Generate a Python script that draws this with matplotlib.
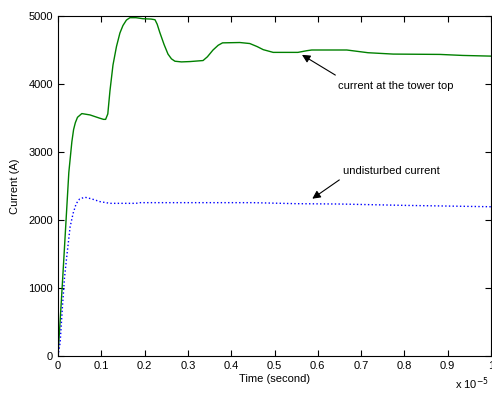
import matplotlib
matplotlib.use('Agg')
import matplotlib.pyplot as plt

# time in units of 1e-5 s, current in A
t_top = [0, 0.01, 0.02, 0.025, 0.032, 0.036, 0.04, 0.045, 0.055, 0.074, 0.095, 0.105, 0.11,
         0.115, 0.12, 0.127, 0.135, 0.143, 0.15, 0.158, 0.166, 0.18, 0.196, 0.215, 0.224,
         0.229, 0.235, 0.245, 0.254, 0.262, 0.27, 0.285, 0.305, 0.335, 0.345, 0.358, 0.37,
         0.38, 0.42, 0.443, 0.46, 0.474, 0.497, 0.554, 0.575, 0.586, 0.667, 0.716, 0.774,
         0.882, 0.935, 1.0]
i_top = [0, 1050, 2150, 2700, 3150, 3330, 3430, 3510, 3565, 3545, 3500, 3480, 3480,
         3560, 3900, 4280, 4550, 4750, 4860, 4940, 4975, 4975, 4960, 4955, 4945,
         4880, 4760, 4580, 4440, 4370, 4335, 4325, 4330, 4345, 4400, 4500, 4570,
         4605, 4610, 4595, 4550, 4505, 4465, 4465, 4490, 4500, 4500, 4460, 4440,
         4435, 4420, 4410]

t_und = [0, 0.005, 0.01, 0.015, 0.02, 0.028, 0.035, 0.042, 0.05, 0.062, 0.078, 0.097, 0.12,
         0.18, 0.19, 0.45, 0.55, 0.65, 0.8, 0.9, 1.0]
i_und = [0, 200, 700, 1150, 1450, 1900, 2100, 2240, 2310, 2335, 2310, 2270, 2245,
         2245, 2255, 2255, 2240, 2235, 2215, 2205, 2195]

xticks = [0, 0.1, 0.2, 0.3, 0.4, 0.5, 0.6, 0.7, 0.8, 0.9, 1]
xticklabels = ['0', '0.1', '0.2', '0.3', '0.4', '0.5', '0.6', '0.7', '0.8', '0.9', '1']
yticks = [0, 1000, 2000, 3000, 4000, 5000]

plt.rcParams['font.family'] = ['Liberation Sans', 'DejaVu Sans']
plt.rcParams['font.size'] = 8

fig = plt.figure(figsize=(4.92, 3.97), dpi=100)
ax = fig.add_axes([58 / 492, 41 / 397, 433 / 492, 340 / 397])

ax.plot(t_top, i_top, color='#008000', lw=1)
ax.plot(t_und, i_und, color='blue', lw=1, linestyle=':')

ax.set_xlim(0, 1)
ax.set_ylim(0, 5000)
ax.set_xticks(xticks)
ax.set_xticklabels(xticklabels)
ax.set_yticks(yticks)
ax.tick_params(direction='in', top=True, right=True, length=4, width=0.8, labelsize=8)
for s in ax.spines.values():
    s.set_linewidth(0.8)

ax.set_xlabel('Time (second)', fontsize=8, labelpad=2)
ax.set_ylabel('Current (A)', fontsize=8, labelpad=6)
ax.text(0.918, -0.08, r'x 10$^{-5}$', transform=ax.transAxes, fontsize=8,
        ha='left', va='center')

arrow = dict(arrowstyle='-|>', color='black', lw=0.8, mutation_scale=12)
ax.annotate('', xy=(0.558, 4450), xytext=(0.646, 4110), arrowprops=arrow)
ax.text(0.646, 3970, 'current at the tower top', fontsize=8, va='center', ha='left')
ax.annotate('', xy=(0.582, 2290), xytext=(0.655, 2613), arrowprops=arrow)
ax.text(0.658, 2725, 'undisturbed current', fontsize=8, va='center', ha='left')

plt.savefig('out.png', dpi=100)
